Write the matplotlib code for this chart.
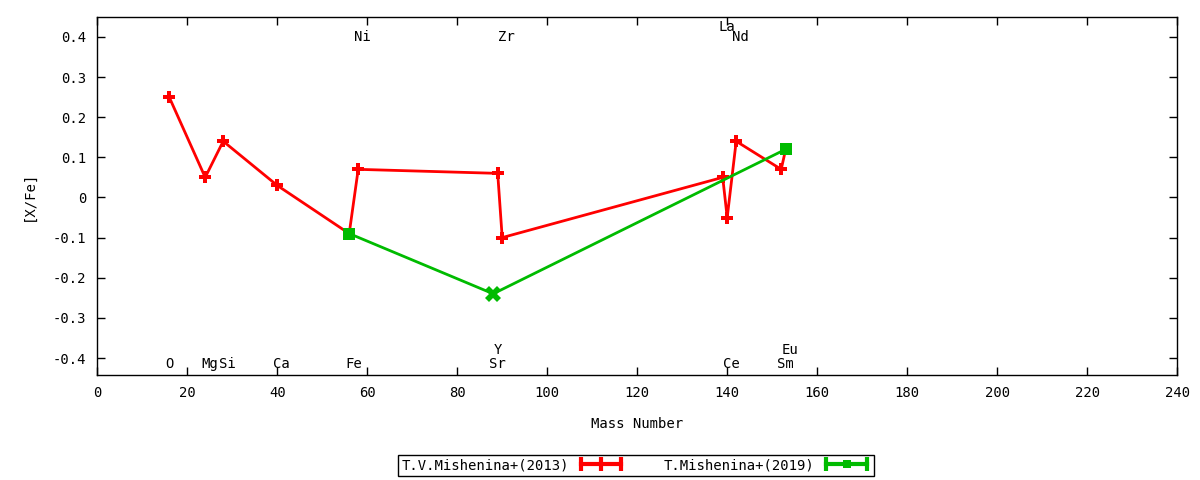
import matplotlib.pyplot as plt
from matplotlib.lines import Line2D
from matplotlib.legend_handler import HandlerLine2D, HandlerTuple

plt.rcParams['font.family'] = ['DejaVu Sans Mono']
plt.rcParams['font.size'] = 10

# element labels along the plot
elements = ['O', 'Mg', 'Si', 'Ca', 'Fe', 'Ni', 'Sr', 'Y', 'Zr', 'La', 'Ce', 'Nd', 'Sm', 'Eu']
masses = [16, 24, 28, 40, 56, 58, 88, 89, 90, 139, 140, 142, 152, 153]

# T.V.Mishenina+(2013)
m13_mass = [16, 24, 28, 40, 56, 58, 89, 90, 139, 140, 142, 152, 153]
m13_xfe = [0.25, 0.05, 0.14, 0.03, -0.09, 0.07, 0.06, -0.10, 0.05, -0.05, 0.14, 0.07, 0.12]

# T.Mishenina+(2019)
m19_mass = [56, 88, 153]
m19_xfe = [-0.09, -0.24, 0.12]
m19_markers = ['s', 'X', 's']

red = '#ff0000'
green = '#00bb00'

fig = plt.figure(figsize=(12, 4.8), dpi=100)
ax = fig.add_axes([0.081, 0.219, 0.9, 0.746])

ax.plot(m13_mass, m13_xfe, '-', color=red, lw=2, marker='P', ms=8, mew=0)
ax.plot(m19_mass, m19_xfe, '-', color=green, lw=2)
for x, y, mk in zip(m19_mass, m19_xfe, m19_markers):
    ax.plot([x], [y], marker=mk, color=green, ms=11 if mk == 'X' else 9, mew=0, ls='none')

top_row = ['Ni', 'Zr', 'Nd']
for el, m in zip(elements, masses):
    if el in top_row:
        y = 0.40
    elif el == 'La':
        y = 0.425
    elif el in ('Y', 'Eu'):
        y = -0.379
    else:
        y = -0.414
    ax.text(m - 0.9, y, el, ha='left', va='center')

ax.set_xlim(0, 240)
ax.set_ylim(-0.442, 0.45)
ax.set_xticks(range(0, 241, 20))
ax.set_yticks([-0.4, -0.3, -0.2, -0.1, 0, 0.1, 0.2, 0.3, 0.4])
ax.set_yticklabels(['-0.4', '-0.3', '-0.2', '-0.1', '0', '0.1', '0.2', '0.3', '0.4'])
ax.tick_params(direction='in', top=True, right=True, length=6, width=1, pad=8)
for s in ax.spines.values():
    s.set_linewidth(1)
ax.set_xlabel('Mass Number', labelpad=12)
ax.set_ylabel('[X/Fe]', labelpad=12)

# legend samples with end caps, gnuplot style
cap13 = Line2D([], [], color=red, lw=3, marker='|', ms=10, mew=3)
pt13 = Line2D([], [], color=red, lw=0, marker='|', ms=10, mew=3)
cap19 = Line2D([], [], color=green, lw=3, marker='|', ms=10, mew=3)
pt19 = Line2D([], [], color=green, lw=0, marker='s', ms=6, mew=0)
hmap = {cap13: HandlerLine2D(numpoints=2), cap19: HandlerLine2D(numpoints=2),
        pt13: HandlerLine2D(numpoints=1), pt19: HandlerLine2D(numpoints=1),
        tuple: HandlerTuple(ndivide=1)}
leg = fig.legend([(cap13, pt13), (cap19, pt19)],
                 ['T.V.Mishenina+(2013)', 'T.Mishenina+(2019)'],
                 handler_map=hmap, ncol=2, markerfirst=False,
                 loc='center', bbox_to_anchor=(0.53, 0.031),
                 fancybox=False, edgecolor='black', framealpha=1,
                 borderpad=0.25, borderaxespad=0, handlelength=3.5,
                 columnspacing=2.7, handletextpad=0.6)
leg.get_frame().set_linewidth(1)

fig.savefig('out.png', dpi=100)
